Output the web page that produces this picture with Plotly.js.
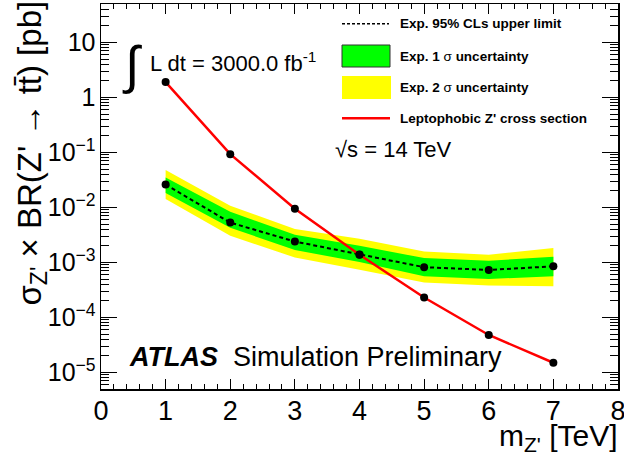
<!DOCTYPE html>
<html>
<head>
<meta charset="utf-8">
<script src="https://cdn.plot.ly/plotly-3.0.1.min.js"></script>
<style>html,body{margin:0;padding:0;background:#fff;}#chart{width:624px;height:459px;}</style>
</head>
<body>
<div id="chart"></div>
<script>
// Z' mass points [TeV]
var mass = [1, 2, 3, 4, 5, 6, 7];
// Leptophobic Z' cross section x BR [pb]
var xsec = [1.9, 0.093, 0.0095, 0.00138, 0.00023, 0.000048, 0.000015];
// Expected 95% CLs upper limit [pb]
var expLimit = [0.026, 0.0053, 0.0024, 0.0014, 0.00082, 0.00073, 0.00085];
// 1 sigma band
var up1 = [0.0351, 0.00835, 0.00319, 0.00201, 0.0012, 0.00107, 0.00127];
var dn1 = [0.0184, 0.00428, 0.00168, 0.00102, 0.00056, 0.0005, 0.00056];
// 2 sigma band
var up2 = [0.0477, 0.0107, 0.00405, 0.0027, 0.00158, 0.00138, 0.00183];
var dn2 = [0.0142, 0.00305, 0.00123, 0.00074, 0.00043, 0.00038, 0.00037];

var legendLabels = ["Exp. 95% CLs upper limit", "Exp. 1 \u03c3 uncertainty", "Exp. 2 \u03c3 uncertainty", "Leptophobic Z' cross section"];

var FONT = "Liberation Sans, Arial, Helvetica, sans-serif";

function band(up, dn) {
  return {
    x: mass.concat(mass.slice().reverse()),
    y: up.concat(dn.slice().reverse())
  };
}
var b2 = band(up2, dn2), b1 = band(up1, dn1);

var traces = [
  {x: b2.x, y: b2.y, type: 'scatter', mode: 'lines', fill: 'toself', fillcolor: '#ffff00', line: {width: 0, color: '#ffff00'}, hoverinfo: 'skip'},
  {x: b1.x, y: b1.y, type: 'scatter', mode: 'lines', fill: 'toself', fillcolor: '#00ff00', line: {width: 0, color: '#00ff00'}, hoverinfo: 'skip'},
  {x: mass, y: expLimit, type: 'scatter', mode: 'lines', line: {color: '#000', width: 2, dash: '4px,3px'}},
  {x: mass, y: xsec, type: 'scatter', mode: 'lines', line: {color: '#ff0000', width: 2.5}},
  {x: mass, y: expLimit, type: 'scatter', mode: 'markers', marker: {color: '#000', size: 8}},
  {x: mass, y: xsec, type: 'scatter', mode: 'markers', marker: {color: '#000', size: 8}}
];

function px(x) { return (x - 101) / 517; }
function py(y) { return (389 - y) / 385; }

var shapes = [
  {type: 'line', xref: 'paper', yref: 'paper', x0: px(342), x1: px(389), y0: py(23.7), y1: py(23.7), line: {color: '#000', width: 1.5, dash: '3px,2px'}},
  {type: 'rect', xref: 'paper', yref: 'paper', x0: px(342), x1: px(390), y0: py(67), y1: py(45), fillcolor: '#00ff00', line: {color: '#333', width: 1}},
  {type: 'rect', xref: 'paper', yref: 'paper', x0: px(342), x1: px(391), y0: py(99), y1: py(76), fillcolor: '#ffff00', line: {width: 0}},
  {type: 'line', xref: 'paper', yref: 'paper', x0: px(342), x1: px(390), y0: py(118.3), y1: py(118.3), line: {color: '#ff0000', width: 2.5}}
];

var legY = [23.7, 56, 88, 118.3];
var annotations = [];
for (var i = 0; i < legendLabels.length; i++) {
  var t = legendLabels[i].replace(/\u03c3/, '</b>\u03c3<b>');
  annotations.push({xref: 'paper', yref: 'paper', x: px(398), y: py(legY[i]), xanchor: 'left', yanchor: 'middle',
    text: '<b>' + t + '</b>', showarrow: false, font: {family: FONT, size: 13.5, color: '#000'}});
}
annotations.push(
  {xref: 'paper', yref: 'paper', x: px(120), y: py(65), xanchor: 'left', yanchor: 'middle', text: '\u222b', showarrow: false, font: {family: FONT, size: 52, color: '#000'}},
  {xref: 'paper', yref: 'paper', x: px(148), y: py(62), xanchor: 'left', yanchor: 'middle', text: 'L dt = 3000.0 fb<sup>-1</sup>', showarrow: false, font: {family: FONT, size: 22, color: '#000'}},
  {xref: 'paper', yref: 'paper', x: px(333), y: py(149), xanchor: 'left', yanchor: 'middle', text: '\u221as = 14 TeV', showarrow: false, font: {family: FONT, size: 22, color: '#000'}},
  {xref: 'paper', yref: 'paper', x: px(127), y: py(357), xanchor: 'left', yanchor: 'middle', text: '<b><i>ATLAS</i></b>  Simulation Preliminary', showarrow: false, font: {family: FONT, size: 27, color: '#000'}},
  {xref: 'paper', yref: 'paper', x: px(31), y: py(-1), xanchor: 'center', yanchor: 'top', textangle: -90, text: '\u03c3<sub>Z\'</sub> \u00d7 BR(Z\' \u2192 tt\u0304) [pb]', showarrow: false, font: {family: FONT, size: 33, color: '#000'}},
  {xref: 'paper', yref: 'paper', x: px(620), y: py(437), xanchor: 'right', yanchor: 'middle', text: 'm<sub>Z\'</sub> [TeV]', showarrow: false, font: {family: FONT, size: 30, color: '#000'}}
);

var layout = {
  width: 624, height: 459,
  margin: {l: 101, r: 6, t: 4, b: 70},
  paper_bgcolor: '#fff', plot_bgcolor: '#fff',
  showlegend: false,
  xaxis: {
    range: [0, 8], dtick: 1, tick0: 0, ticks: 'inside', ticklen: 10, tickwidth: 1, tickcolor: '#000',
    mirror: 'allticks', showline: true, linewidth: 1.5, linecolor: '#000', showgrid: false, zeroline: false,
    ticklabeloverflow: 'allow', ticklabelstandoff: -3,
    tickfont: {family: FONT, size: 27, color: '#000'},
    minor: {dtick: 0.2, ticks: 'inside', ticklen: 5, tickcolor: '#000', showgrid: false}
  },
  yaxis: {
    type: 'log', range: [Math.log10(5e-6), Math.log10(50)], dtick: 1, exponentformat: 'power',
    ticks: 'inside', ticklen: 16, tickwidth: 1, tickcolor: '#000',
    mirror: 'allticks', showline: true, linewidth: 1.5, linecolor: '#000', showgrid: false, zeroline: false,
    tickfont: {family: FONT, size: 20, color: '#000'},
    minor: {dtick: 'D1', ticks: 'inside', ticklen: 8, tickcolor: '#000', showgrid: false}
  },
  shapes: shapes,
  annotations: annotations
};

Plotly.newPlot('chart', traces, layout, {staticPlot: true, displayModeBar: false});
</script>
</body>
</html>
